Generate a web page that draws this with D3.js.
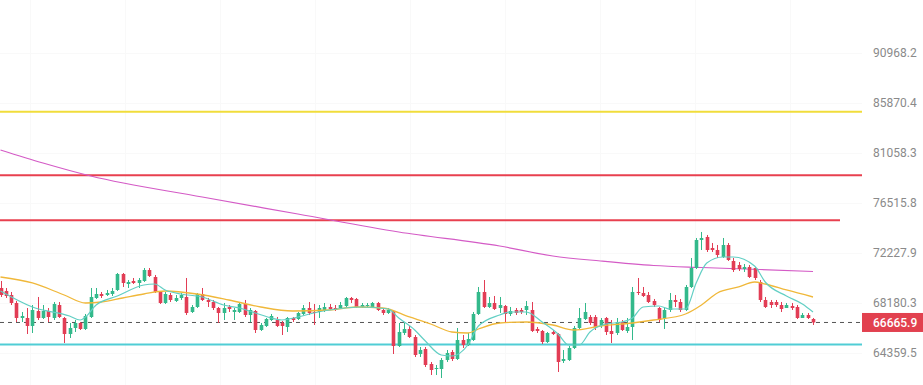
<!DOCTYPE html>
<html lang="en">
<head>
<meta charset="UTF-8" />
<title>Price Chart</title>
<style>
  body { margin: 0; background: #fff; }
  svg { display: block; font-family: Roboto, "Noto Sans", sans-serif; }
  .tick-label { fill: #8a8a8a; font-size: 12px; }
  .price-label { fill: #fff; font-size: 12px; font-weight: 500; }
</style>
</head>
<body>
<svg width="923" height="385"></svg>
<script src="https://d3js.org/d3.v7.min.js"></script>
<script>
// [open, high, low, close]
const ohlc = [
  [69371,69933,68654,68812],[69131,69371,68575,68733],[68812,69052,68023,68181],[68181,68338,66702,67011],
  [67011,67477,66702,67166],[67011,67788,65785,66396],[66396,68023,65861,67632],[67554,68654,66856,67011],
  [67011,68023,66934,67554],[67554,67788,66702,67089],[67011,68259,66856,68102],[68023,68259,67011,67089],
  [67011,67089,65106,65785],[65785,66626,65483,66243],[66243,66856,65938,66626],[66626,66702,66090,66166],
  [66166,67322,66090,67166],[67089,69371,67011,68654],[68575,69371,68496,68892],[68892,69052,68575,68733],
  [68812,69211,68733,68972],[68892,69371,68733,69131],[69211,70581,69131,70500],[70500,70581,69451,69772],
  [69691,70013,69371,69852],[69933,70175,69691,69772],[69772,70175,69371,70013],[69933,70989,69852,70825],
  [70825,70989,70257,70338],[70257,70419,68972,69052],[69052,69131,68102,68181],[68181,69052,68102,68892],
  [68812,68972,68259,68417],[68338,68812,68259,68575],[68575,68972,68417,68812],[68654,70175,67244,67399],
  [67477,68023,67399,67867],[67867,68972,67788,68892],[68892,69371,68338,68417],[68417,68575,67867,68259],
  [68259,68417,67632,67788],[67788,67867,66626,67399],[67399,68181,66856,67788],[67867,68023,67477,67710],
  [67477,67788,66856,67632],[67477,68181,67399,68102],[68102,68417,67089,67244],[67244,67788,66702,67632],
  [67554,67632,65861,66090],[66090,66626,66014,66472],[66396,67011,66319,66934],[66856,67322,66779,67166],
  [66856,67089,66319,66396],[66626,66779,65709,66396],[66319,67089,65938,67011],[67011,67089,66702,66856],
  [66934,67477,66856,67399],[67322,68023,67244,67788],[67788,68259,67244,67399],[67477,68102,66472,67399],
  [67477,68023,67011,67788],[67632,68181,67477,67867],[67867,68102,67632,67710],[67788,68023,67554,67632],
  [67788,68259,67710,68023],[67945,68654,67867,68575],[68575,68654,68181,68417],[68496,68575,67788,67867],
  [67867,68181,67788,68023],[67945,68181,67788,68023],[67867,68259,67788,68181],[68181,68259,67554,67632],
  [67632,67788,67244,67399],[67399,67788,67322,67632],[67554,67632,64285,64881],[64881,66626,64807,65938],
  [65861,66626,65709,66166],[66166,66396,65483,65558],[65558,65709,64063,64211],[64285,64807,64063,64583],
  [64658,64807,63329,63475],[63548,63695,62747,63110],[63183,63475,62747,63256],[63183,63990,62530,63842],
  [63842,64583,63695,64360],[64434,64583,63769,63916],[63916,66243,63842,65332],[65332,65709,64732,64956],
  [64956,65861,64881,65407],[65332,67477,65257,67322],[67322,69451,67244,69052],[69052,70013,67788,67867],
  [67867,68654,67788,68181],[68181,68733,67632,67710],[67788,68654,67399,68023],[67945,68023,66626,67322],
  [67322,67867,67166,67554],[67632,67788,67244,67399],[67632,67788,67322,67477],[67632,68338,67244,67945],
  [67632,68259,65938,66014],[66166,66319,65861,66014],[66014,66090,65031,65182],[65182,65938,65106,65861],
  [65938,66090,65709,65785],[65785,65861,62965,63695],[63769,64583,63622,63916],[63842,64881,63769,64732],
  [64732,66396,64658,66243],[66243,67788,66166,67011],[66934,68181,66856,67477],[67089,67244,66472,66626],
  [67089,67244,66090,66319],[66396,67011,66243,66856],[67011,67089,65709,65938],[66014,66856,65106,65785],
  [65861,67011,65709,66702],[66702,66856,66014,66090],[66014,67011,65861,66319],[66319,69451,65332,69052],
  [69052,70175,68812,68972],[68972,69451,68654,68733],[68812,69052,68181,68259],[68338,68496,67867,68023],
  [67788,67867,66702,66856],[67011,67788,66166,67632],[67632,68972,67477,68417],[68417,68812,67867,68259],
  [68259,68496,67477,67632],[67632,69611,67554,69451],[69451,71813,69371,70989],[70989,73489,70907,73319],
  [73319,74001,72478,73489],[73575,73745,72311,72478],[72646,73066,72311,72478],[72478,72898,71813,72061],
  [71896,73489,71813,72898],[72898,73066,71565,71647],[71565,71813,70663,70825],[71236,71483,70744,70907],
  [70907,71318,70663,71072],[71072,71236,70175,70257],[70989,71072,70013,70175],[69852,70013,68259,68417],
  [68417,68654,67788,67867],[68259,68417,67788,68023],[68259,68417,67867,68023],[68023,68259,67477,67710],
  [67788,68181,67788,68023],[67945,68181,67632,67788],[67867,68023,66934,67011],[67011,67399,67011,67244],
  [67244,67399,66934,67011],[66934,67011,66472,66665.9]
];

// moving averages: [candle index, value]
const maFast = [
  [0,69131],[6,67867],[13,67166],[15,66856],[16,67089],[18,68023],[22,68733],[27,69611],[29,69691],
  [31,69211],[34,68892],[38,68654],[42,68023],[45,67788],[48,67399],[51,67011],[53,66856],[56,67089],
  [59,67399],[62,67632],[68,67867],[73,67710],[75,67011],[78,66090],[80,65257],[83,64211],[85,64137],
  [88,64956],[90,66396],[94,67244],[96,67477],[99,67477],[102,66702],[105,65785],[107,64956],[109,64956],
  [111,65938],[114,66549],[117,66702],[119,67011],[121,67867],[124,67945],[126,67710],[129,67710],
  [131,69772],[133,71400],[136,71896],[138,71896],[142,71154],[144,69852],[148,68733],[151,68102],[153,67477]
];
const maMid = [
  [0,70257],[6,69772],[12,68812],[16,68181],[19,68259],[23,68575],[27,68892],[31,69131],[37,68892],
  [43,68417],[49,67867],[55,67554],[62,67632],[67,67867],[72,67788],[77,67089],[81,66549],[85,65938],
  [88,65861],[90,66166],[94,66626],[99,66702],[104,66472],[108,66090],[113,66396],[119,66626],[123,66856],
  [129,67322],[132,68023],[135,68972],[139,69451],[142,69852],[144,69691],[148,69211],[153,68654]
];
const maSlow = [
  [0,81340],[8,80130],[17,78935],[38,77047],[56,75551],[75,73999],[94,72813],[104,71979],[113,71564],
  [123,71194],[132,71030],[143,70867],[153,70703]
];

const levels = [85000, 79000, 75000, 65000];
const yTicks = [90968.2, 85870.4, 81058.3, 76515.8, 72227.9, 68180.3, 64359.5];
const lastPrice = 66665.9;

const svg = d3.select("svg");
const plotRight = 862;
const up = "#33b98b", down = "#e23d55";

const x = d3.scaleLinear().domain([0, ohlc.length - 1]).range([0.5, 813]);
const y = d3.scaleLog().domain(d3.extent(yTicks)).range([353, 53]);

// faint grid
const grid = svg.append("g").attr("stroke", "#f9f9f9").attr("stroke-width", 1);
yTicks.forEach(t => {
  grid.append("line").attr("x1", 0).attr("x2", plotRight)
    .attr("y1", Math.round(y(t)) + 0.5).attr("y2", Math.round(y(t)) + 0.5);
});
d3.range(5.5, 153, 17.9).forEach(i => {
  grid.append("line").attr("y1", 0).attr("y2", 385)
    .attr("x1", Math.round(x(i)) + 0.5).attr("x2", Math.round(x(i)) + 0.5);
});

// level lines
const levelColors = ["#f1dd3b", "#e8404f", "#e8404f", "#50cdd5"];
const levelEnds = [plotRight, plotRight, 840, plotRight];
levels.forEach((v, k) => {
  svg.append("line")
    .attr("x1", 0).attr("x2", levelEnds[k])
    .attr("y1", y(v)).attr("y2", y(v))
    .attr("stroke", levelColors[k]).attr("stroke-width", 2);
});

// last price dashed line
svg.append("line")
  .attr("x1", 0).attr("x2", plotRight)
  .attr("y1", y(lastPrice)).attr("y2", y(lastPrice))
  .attr("stroke", "#555").attr("stroke-width", 1)
  .attr("stroke-dasharray", "4,4");

const lineGen = d3.line()
  .x(d => x(d[0]))
  .y(d => y(d[1]))
  .curve(d3.curveMonotoneX);

svg.append("path").datum(maSlow)
  .attr("d", lineGen).attr("fill", "none")
  .attr("stroke", "#d45bc6").attr("stroke-width", 1.2);

// candles
const bw = 3.6;
const c = svg.append("g").selectAll("g").data(ohlc).enter().append("g");
c.append("line")
  .attr("x1", (d, i) => Math.round(x(i)) + 0.5).attr("x2", (d, i) => Math.round(x(i)) + 0.5)
  .attr("y1", d => y(d[1])).attr("y2", d => y(d[2]))
  .attr("stroke", d => d[3] >= d[0] ? up : down).attr("stroke-width", 1);
c.append("rect")
  .attr("x", (d, i) => Math.round(x(i)) + 0.5 - bw / 2)
  .attr("width", bw)
  .attr("y", d => y(Math.max(d[0], d[3])))
  .attr("height", d => Math.max(1, Math.abs(y(d[0]) - y(d[3]))))
  .attr("fill", d => d[3] >= d[0] ? up : down);

svg.append("path").datum(maMid)
  .attr("d", lineGen).attr("fill", "none")
  .attr("stroke", "#f0b83a").attr("stroke-width", 1.3);
svg.append("path").datum(maFast)
  .attr("d", lineGen).attr("fill", "none")
  .attr("stroke", "#62cfc4").attr("stroke-width", 1.2);

// right axis labels
svg.append("g").selectAll("text").data(yTicks).enter().append("text")
  .attr("class", "tick-label")
  .attr("x", 873)
  .attr("y", d => y(d))
  .attr("dy", "0.35em")
  .text(d => d.toFixed(1));

// current price tag
const py = y(lastPrice);
svg.append("rect")
  .attr("x", plotRight).attr("y", py - 9.5)
  .attr("width", 923 - plotRight).attr("height", 19)
  .attr("fill", "#e2414f");
svg.append("text")
  .attr("class", "price-label")
  .attr("x", 873).attr("y", py).attr("dy", "0.35em")
  .text(lastPrice.toFixed(1));
</script>
</body>
</html>
